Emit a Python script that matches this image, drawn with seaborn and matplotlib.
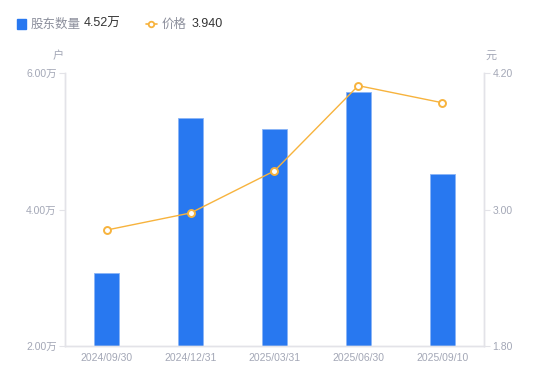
import matplotlib
matplotlib.use("Agg")
import matplotlib.pyplot as plt
import matplotlib.ticker as mticker
from matplotlib.lines import Line2D
from matplotlib.patches import Rectangle
import seaborn as sns
import pandas as pd

# -----------------------------------------------------------------------------
# DATA
# -----------------------------------------------------------------------------

dates = ["2024/09/30", "2024/12/31", "2025/03/31", "2025/06/30", "2025/09/10"]
holders = [3.07, 5.34, 5.18, 5.72, 4.52]      # 万户
prices = [2.82, 2.97, 3.34, 4.09, 3.94]       # 元

left_ticks = [2.0, 4.0, 6.0]
right_ticks = [1.8, 3.0, 4.2]

BLUE = "#2878f0"
ORANGE = "#f7b33d"
TICK_GREY = "#a3a7b6"
AXIS_GREY = "#e3e3e8"

df = pd.DataFrame({"date": dates, "holders": holders, "price": prices})

# -----------------------------------------------------------------------------
# PLOT
# -----------------------------------------------------------------------------

sns.set_theme(style="white")
plt.rcParams["font.family"] = ["Liberation Sans", "Noto Sans CJK SC", "DejaVu Sans"]
CJK = ["Noto Sans CJK SC", "DejaVu Sans"]

fig = plt.figure(figsize=(5.5, 3.81), dpi=100)
ax = fig.add_axes([0.118, 0.092, 0.762, 0.716])

sns.barplot(data=df, x="date", y="holders", color=BLUE, width=0.3,
            saturation=1, edgecolor="#8ab4f6", linewidth=0.6, ax=ax)
ax.set_ylim(2, 6)
ax.set_yticks(left_ticks)
ax.yaxis.set_major_formatter(mticker.FuncFormatter(lambda v, p: f"{v:.2f}万"))
ax.set_xlabel("")
ax.set_ylabel("")

ax2 = ax.twinx()
sns.lineplot(data=df, x="date", y="price", color=ORANGE, linewidth=1,
             marker="o", markersize=5, markerfacecolor="white",
             markeredgecolor=ORANGE, markeredgewidth=1.4, ax=ax2)
ax2.set_ylim(1.8, 4.2)
ax2.set_yticks(right_ticks)
ax2.yaxis.set_major_formatter(mticker.FuncFormatter(lambda v, p: f"{v:.2f}"))
ax2.set_ylabel("")
ax2.set_xlim(-0.5, 4.5)
ax.set_xlim(-0.5, 4.5)

for a in (ax, ax2):
    a.grid(False)
    a.spines["top"].set_visible(False)
    for s in ("left", "right", "bottom"):
        a.spines[s].set_color(AXIS_GREY)
        a.spines[s].set_linewidth(1)
    a.tick_params(axis="both", colors=TICK_GREY, labelsize=7.5, length=4,
                  width=0.8, pad=2)
    a.tick_params(axis="y", color=AXIS_GREY)
ax.tick_params(axis="x", length=0, pad=5)

# unit labels
fig.text(0.105, 0.845, "户", fontsize=8, color=TICK_GREY, ha="center", family=CJK)
fig.text(0.892, 0.845, "元", fontsize=8, color=TICK_GREY, ha="center", family=CJK)

# legend
fig.patches.append(Rectangle((0.03, 0.925), 0.017, 0.025, color=BLUE,
                             transform=fig.transFigure, figure=fig))
fig.text(0.055, 0.937, "股东数量", fontsize=9, color="#8c8f9c", va="center", family=CJK)
fig.text(0.153, 0.937, "4.52万", fontsize=9, color="#333333", va="center")
fig.lines.append(Line2D([0.265, 0.285], [0.937, 0.937], color=ORANGE,
                        linewidth=1.2, transform=fig.transFigure))
fig.lines.append(Line2D([0.275], [0.937], color=ORANGE, marker="o",
                        markersize=4, markerfacecolor="white",
                        markeredgewidth=1.3, transform=fig.transFigure))
fig.text(0.293, 0.937, "价格", fontsize=9, color="#8c8f9c", va="center", family=CJK)
fig.text(0.349, 0.937, "3.940", fontsize=9, color="#333333", va="center")

plt.savefig("out.png", dpi=100)
plt.close()
